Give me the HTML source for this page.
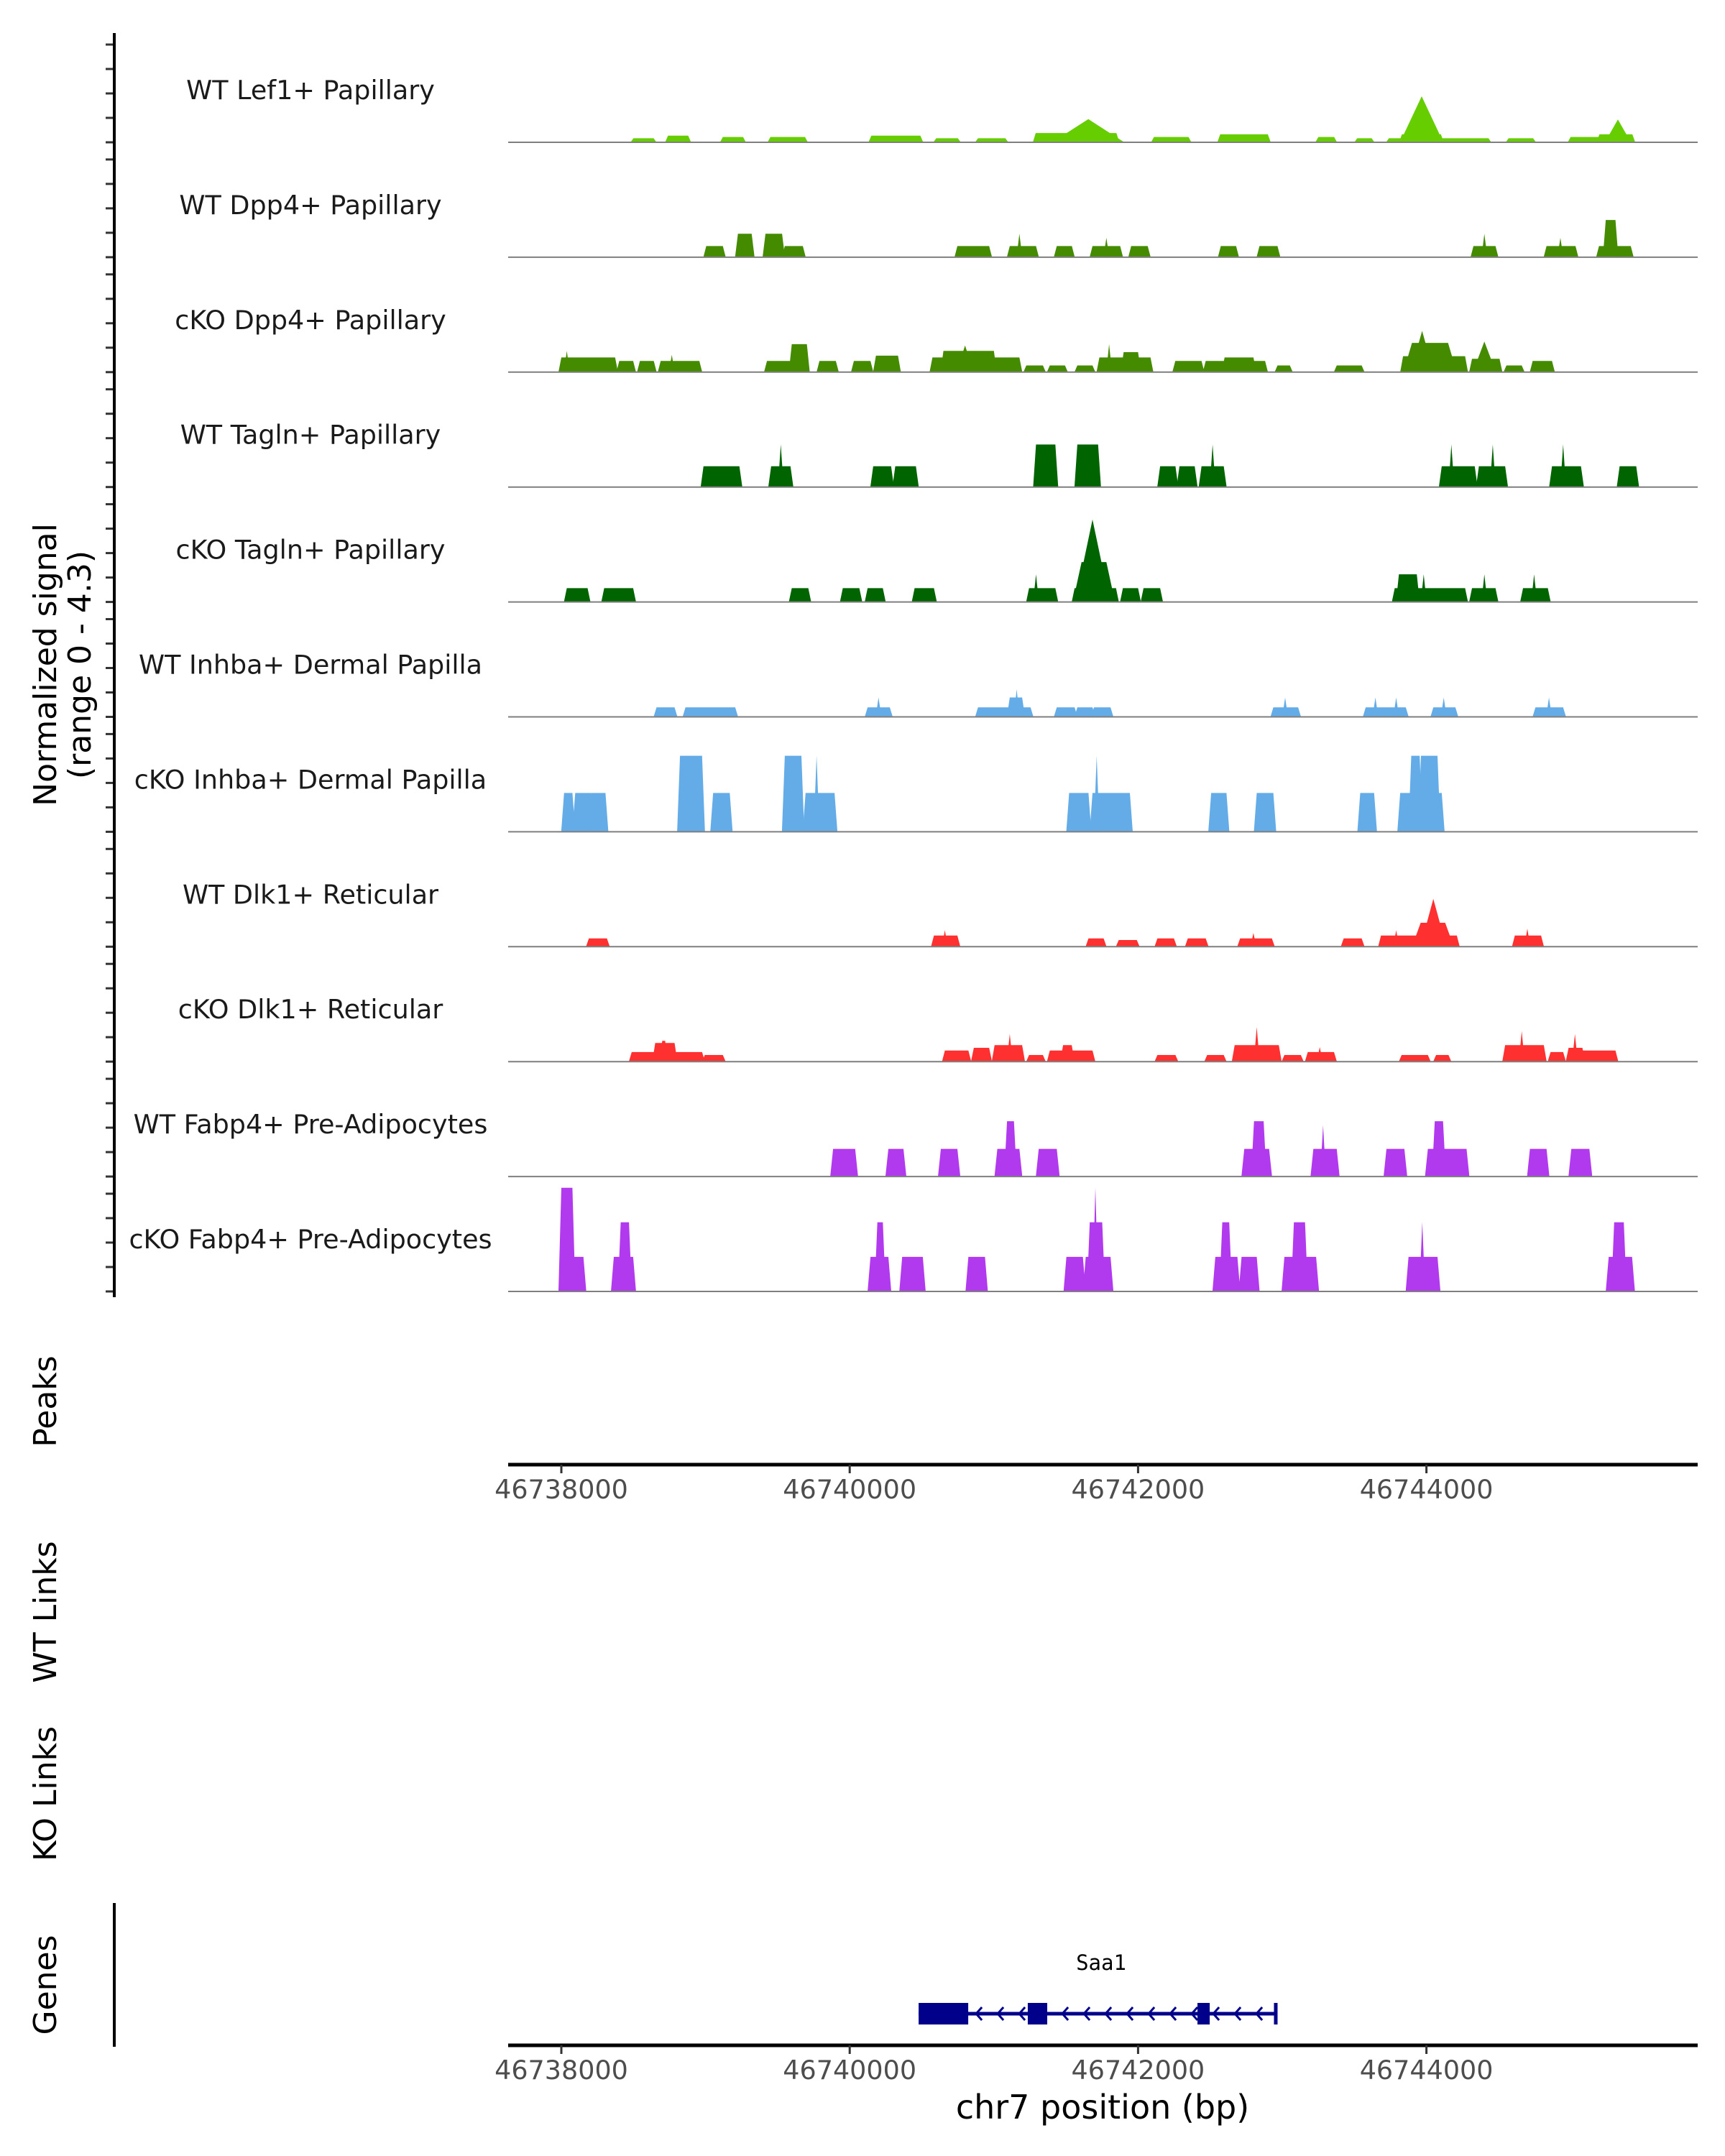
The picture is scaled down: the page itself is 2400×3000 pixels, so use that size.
<!DOCTYPE html>
<html><head><meta charset="utf-8"><style>
html,body{margin:0;padding:0;background:#fff;}
svg{display:block;font-family:"DejaVu Sans","Liberation Sans",sans-serif;}
</style></head><body>
<svg id="chart" width="2400" height="3000" viewBox="0 0 2400 3000" xmlns="http://www.w3.org/2000/svg"></svg>
<script>
// ---- data (positions are bp offsets from 46738000; values are normalized signal 0-4.3; optional 4th = flank bp) ----
const trackNames = ["WT Lef1+ Papillary","WT Dpp4+ Papillary","cKO Dpp4+ Papillary","WT Tagln+ Papillary","cKO Tagln+ Papillary","WT Inhba+ Dermal Papilla","cKO Inhba+ Dermal Papilla","WT Dlk1+ Reticular","cKO Dlk1+ Reticular","WT Fabp4+ Pre-Adipocytes","cKO Fabp4+ Pre-Adipocytes"];
const trackColors = ["#66cd00","#458b00","#458b00","#006400","#006400","#63ace8","#63ace8","#ff3030","#ff3030","#b23aee","#b23aee"];
const wtLef1 = [[500,640,0.15],[740,880,0.25],[1120,1260,0.2],[1450,1690,0.2],[2150,2490,0.25],[2600,2750,0.15],[2890,3080,0.15],[3290,3850,0.35],[3655,3655,0.87,250],[4110,4350,0.2],[4570,4900,0.3],[5250,5360,0.2],[5520,5620,0.15],[5740,6430,0.15],[5830,6100,0.3],[5967,5967,1.73,150],[6570,6740,0.15],[7000,7250,0.2],[7200,7428,0.3],[7328,7328,0.86,90]];
const wtDpp4 = [[1005,1120,0.42],[1225,1320,0.88],[1416,1531,0.88],[1550,1675,0.42],[2747,2967,0.42],[3110,3292,0.42],[3177,3177,0.88],[3436,3541,0.42],[3684,3876,0.42],[3780,3780,0.73],[3952,4067,0.42],[4574,4680,0.42],[4842,4967,0.42],[6326,6479,0.42],[6402,6402,0.88],[6833,7034,0.42],[6929,6929,0.73],[7197,7417,0.42],[7244,7311,1.4]];
const koDpp4 = [[0,373,0.55],[38,38,0.8],[402,498,0.42],[545,641,0.42],[689,957,0.42],[766,766,0.65],[1426,1675,0.42],[1598,1703,1.05],[1790,1904,0.42],[2029,2144,0.42],[2182,2335,0.62],[2574,3177,0.55],[2650,3000,0.8],[2800,2800,1.0,60],[3225,3340,0.25],[3388,3493,0.25],[3579,3684,0.25],[3732,4086,0.55],[3799,3799,1.05],[3900,4000,0.75],[4258,4440,0.42],[4469,4881,0.42],[4600,4800,0.55],[4967,5053,0.25],[5378,5551,0.25],[5838,6268,0.6],[5900,6150,1.1,60],[5970,5970,1.55,80],[6316,6507,0.5],[6402,6402,1.15,80],[6555,6661,0.25],[6737,6871,0.42]];
const wtTagln = [[986,1091,0.78],[1091,1235,0.78],[1455,1589,0.78],[1522,1522,1.6],[2163,2287,0.78],[2316,2459,0.78],[3292,3426,1.6],[3579,3723,1.6],[4153,4259,0.78],[4287,4393,0.78],[4440,4594,0.78],[4517,4517,1.6],[6106,6335,0.78],[6173,6173,1.6],[6364,6546,0.78],[6460,6460,1.6],[6871,7072,0.78],[6948,6948,1.6],[7340,7455,0.78]];
const koTagln = [[38,182,0.52],[297,498,0.52],[1598,1713,0.52],[1952,2067,0.52],[2124,2230,0.52],[2450,2584,0.52],[3244,3426,0.52],[3292,3292,1.04],[3560,3847,0.52],[3608,3780,1.5,60],[3684,3684,3.1,120],[3895,4000,0.52],[4038,4153,0.52],[5780,6268,0.52],[5809,5933,1.04],[5981,5981,1.04],[6316,6479,0.52],[6402,6402,1.04],[6670,6842,0.52],[6747,6747,1.04]];
const wtInhba = [[660,785,0.36],[861,1206,0.36],[2124,2278,0.36],[2200,2200,0.73],[2890,3254,0.36],[3110,3196,0.73],[3158,3158,1.04],[3436,3560,0.36],[3579,3684,0.36],[3694,3809,0.36],[4938,5110,0.36],[5020,5020,0.73],[5579,5857,0.36],[5646,5646,0.73],[5790,5790,0.73],[6048,6201,0.36],[6120,6120,0.73],[6756,6948,0.36],[6850,6850,0.73]];
const koInhba = [[19,77,1.46],[96,211,1.46],[211,306,1.46],[823,976,2.86],[1053,1168,1.46],[1550,1665,2.86],[1694,1895,1.46],[1770,1770,2.86],[3522,3656,1.46],[3684,3943,1.46],[3713,3713,2.86],[4507,4613,1.46],[4823,4938,1.46],[5541,5637,1.46],[5818,6106,1.46],[5895,5953,2.86],[5962,6077,2.86]];
const wtDlk1 = [[191,316,0.31],[2584,2747,0.42],[2660,2660,0.62],[3656,3761,0.31],[3866,3991,0.25],[4134,4249,0.31],[4345,4469,0.31],[4708,4928,0.31],[4800,4800,0.52],[5426,5551,0.31],[5685,5904,0.42],[5790,5790,0.62],[5904,6211,0.42],[5960,6130,0.9,60],[6048,6048,1.8,90],[6613,6795,0.42],[6700,6700,0.68]];
const koDlk1 = [[488,976,0.36],[651,785,0.7],[700,720,0.78],[995,1120,0.25],[2660,2823,0.42],[2861,2967,0.52],[3005,3196,0.62],[3110,3110,1.04],[3244,3340,0.25],[3388,3684,0.42],[3480,3540,0.62],[4134,4259,0.25],[4479,4594,0.25],[4670,4976,0.62],[4823,4823,1.3],[5015,5129,0.25],[5177,5359,0.36],[5260,5260,0.55],[5828,6010,0.25],[6067,6153,0.25],[6546,6814,0.62],[6661,6661,1.15],[6861,6948,0.36],[6986,7082,0.52],[7030,7030,1.04],[7082,7311,0.42]];
const wtFabp4 = [[1885,2038,1.04],[2268,2373,1.04],[2632,2747,1.04],[3024,3177,1.04],[3091,3139,2.08],[3311,3436,1.04],[4737,4909,1.04],[4804,4871,2.08],[5216,5378,1.04],[5283,5283,1.93],[5723,5847,1.04],[6010,6278,1.04],[6058,6115,2.08],[6718,6833,1.04],[7005,7130,1.04]];
const koFabp4 = [[0,153,1.3],[0,77,3.9],[364,498,1.3],[412,469,2.6],[2144,2268,1.3],[2192,2230,2.6],[2364,2507,1.3],[2823,2938,1.3],[3503,3617,1.3],[3637,3809,1.3],[3665,3751,2.6],[3704,3704,3.9],[4536,4689,1.3],[4584,4632,2.6],[4718,4823,1.3],[5015,5235,1.3],[5081,5158,2.6],[5876,6077,1.3],[5971,5971,2.6],[7264,7426,1.3],[7302,7369,2.6]];
const trackData = [wtLef1,wtDpp4,koDpp4,wtTagln,koTagln,wtInhba,koInhba,wtDlk1,koDlk1,wtFabp4,koFabp4];
const xTickValues = [46738000,46740000,46742000,46744000];
const geneName = "Saa1";
const geneSpan = [2478,4955];
const geneExons = [[2478,2822],[3235,3370],[4412,4497]];
const sideLabels = ["Peaks","WT Links","KO Links","Genes"];

// ---- layout ----
const NS="http://www.w3.org/2000/svg";
const svg=document.getElementById('chart');
const X0=781, PXBP=0.2006;
const xs = off => X0 + off*PXBP;
const xsAbs = bp => xs(bp-46738000);
const PL=707, PR=2362;
const base0=198, trackStep=159.9, PXU=37;
const ys = (i,v) => base0 + i*trackStep - v*PXU;
function el(tag,attrs,parent){const e=document.createElementNS(NS,tag);for(const k in attrs)e.setAttribute(k,attrs[k]);(parent||svg).appendChild(e);return e;}

// tracks
trackData.forEach((segs,i)=>{
  const g=el('g',{});
  
  
  const b=ys(i,0);
  segs.forEach(s=>{
    const sl=s[3]||20;
    const pts=[[xs(s[0]-sl),b],[xs(s[0]),ys(i,s[2])],[xs(s[1]),ys(i,s[2])],[xs(s[1]+sl),b]];
    const p=el('polygon',{points:pts.map(q=>q[0].toFixed(1)+','+q[1].toFixed(1)).join(' '),fill:trackColors[i]},g);
    
    
  });
  const bl=el('line',{x1:PL,x2:PR,y1:b,y2:b,stroke:'#7f7f7f','stroke-width':2},g);
  
  
  const t=el('text',{x:432,y:b-60,'text-anchor':'middle','font-size':36.5,fill:'#1a1a1a'},g);
  t.textContent=trackNames[i];
  
  
  for(let k=0;k<=4;k++){
    const tk=el('line',{x1:147,x2:159,y1:b-k*34,y2:b-k*34,stroke:'#333','stroke-width':3},g);
    
    
  }
});
const yax=el('line',{x1:159,x2:159,y1:46,y2:1805,stroke:'#000','stroke-width':4});


const yt=el('text',{transform:'translate(78,925) rotate(-90)','text-anchor':'middle','font-size':44,fill:'#000'});


const ts1=el('tspan',{x:0,y:0},yt);ts1.textContent='Normalized signal';
const ts2=el('tspan',{x:0,y:48},yt);ts2.textContent='(range 0 - 4.3)';

// x axes
function xAxis(y,name){
  const g=el('g',{});
  
  
  el('line',{x1:PL,x2:PR,y1:y,y2:y,stroke:'#000','stroke-width':5},g);
  xTickValues.forEach(v=>{
    el('line',{x1:xsAbs(v),x2:xsAbs(v),y1:y,y2:y+12,stroke:'#333','stroke-width':3},g);
    const t=el('text',{x:xsAbs(v),y:y+47,'text-anchor':'middle','font-size':36.5,fill:'#4d4d4d'},g);
    t.textContent=v;
    
    
  });
}
xAxis(2038,'peaks-x-axis');
xAxis(2846,'genes-x-axis');
const xt=el('text',{x:1534,y:2948,'text-anchor':'middle','font-size':46,fill:'#000'});
xt.textContent='chr7 position (bp)';



// side labels
const sideY=[1950,2243,2496,2762];
sideLabels.forEach((s,i)=>{
  const t=el('text',{transform:'translate(78,'+sideY[i]+') rotate(-90)','text-anchor':'middle','font-size':44,fill:'#000'});
  t.textContent=s;
  
  
});
const gl=el('line',{x1:159,x2:159,y1:2648,y2:2848,stroke:'#000','stroke-width':4});



// gene model
const gg=el('g',{});


const gy=2802;
el('line',{x1:xs(geneSpan[0]),x2:xs(geneSpan[1]),y1:gy,y2:gy,stroke:'#00008b','stroke-width':5},gg);
geneExons.forEach(e=>{
  const r=el('rect',{x:xs(e[0]),y:gy-15,width:xs(e[1])-xs(e[0]),height:30,fill:'#00008b'},gg);
  
  
});
el('line',{x1:xs(geneSpan[1]),x2:xs(geneSpan[1]),y1:gy-15,y2:gy+15,stroke:'#00008b','stroke-width':5},gg);
for(let x=xs(geneSpan[0])+20;x<xs(geneSpan[1]);x+=30){
  el('polyline',{points:(x+8)+','+(gy-9)+' '+x+','+gy+' '+(x+8)+','+(gy+9),fill:'none',stroke:'#00008b','stroke-width':3},gg);
}
const gt=el('text',{x:1532,y:2741,'text-anchor':'middle','font-size':29,fill:'#000','font-family':'"DejaVu Sans Mono","Liberation Mono",monospace'},gg);
gt.textContent=geneName;


</script>
</body></html>
